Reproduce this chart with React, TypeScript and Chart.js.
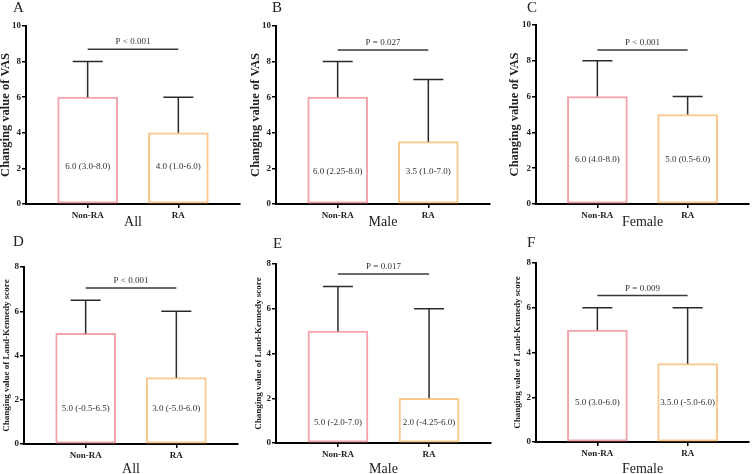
import { useEffect, useRef } from 'react';
import { Chart, registerables } from 'chart.js';

Chart.register(...registerables);

const FONT = "'Liberation Serif', 'Times New Roman', serif";

// data
const panelLetters = ['A', 'B', 'C', 'D', 'E', 'F'];
const groupNames = ['All', 'Male', 'Female', 'All', 'Male', 'Female'];
const categories = ['Non-RA', 'RA'];
const yTitles = [
  'Changing value of VAS',
  'Changing value of VAS',
  'Changing value of VAS',
  'Changing value of Land-Kennedy score',
  'Changing value of Land-Kennedy score',
  'Changing value of Land-Kennedy score',
];
const yMaxes = [10, 10, 10, 8, 8, 8];
const nonRaMedian = [6, 6, 6, 5, 5, 5];
const raMedian = [4, 3.5, 5, 3, 2, 3.5];
const nonRaUpper = [8, 8, 8, 6.5, 7, 6];
const raUpper = [6, 7, 6, 6, 6, 6];
const nonRaText = ['6.0 (3.0-8.0)', '6.0 (2.25-8.0)', '6.0 (4.0-8.0)', '5.0 (-0.5-6.5)', '5.0 (-2.0-7.0)', '5.0 (3.0-6.0)'];
const raText = ['4.0 (1.0-6.0)', '3.5 (1.0-7.0)', '5.0 (0.5-6.0)', '3.0 (-5.0-6.0)', '2.0 (-4.25-6.0)', '3.5.0 (-5.0-6.0)'];
const textLevel = [2.1, 1.8, 2.5, 1.6, 0.9, 1.75];
const pTexts = ['P < 0.001', 'P = 0.027', 'P < 0.001', 'P < 0.001', 'P = 0.017', 'P = 0.009'];
const bracketLevel = [8.7, 8.65, 8.6, 7.05, 7.55, 6.55];

const barColors = ['#f4a3ab', '#f9c88e'];

// panel placement
const layouts = [
  { left: 0, top: 0, width: 250, height: 230, yWidth: 26, xHeight: 26, padTop: 26, padRight: 10, yTitleSize: 12.5, yTitlePad: -1.3, xTitlePad: -1, lx: 13, ly: 0 },
  { left: 250, top: 0, width: 250, height: 230, yWidth: 26, xHeight: 26, padTop: 26, padRight: 10, yTitleSize: 12.5, yTitlePad: -1.3, xTitlePad: -1, lx: 272, ly: 0 },
  { left: 500, top: 0, width: 252, height: 230, yWidth: 36, xHeight: 26, padTop: 25, padRight: 3, yTitleSize: 12.5, yTitlePad: 7.5, xTitlePad: -1, lx: 527, ly: 0 },
  { left: 0, top: 230, width: 250, height: 244, yWidth: 24, xHeight: 30, padTop: 37, padRight: 12, yTitleSize: 9, yTitlePad: 1.3, xTitlePad: -4, lx: 13, ly: 234 },
  { left: 250, top: 230, width: 250, height: 244, yWidth: 26, xHeight: 31, padTop: 34, padRight: 9, yTitleSize: 9, yTitlePad: 3.3, xTitlePad: -4, lx: 273, ly: 236 },
  { left: 500, top: 230, width: 252, height: 244, yWidth: 36, xHeight: 32, padTop: 33, padRight: 3, yTitleSize: 9, yTitlePad: 12, xTitlePad: -4, lx: 527, ly: 235 },
];

const Panel = ({ i }: { i: number }) => {
  const canvasRef = useRef<HTMLCanvasElement | null>(null);
  const chartRef = useRef<Chart | null>(null);
  const L = layouts[i];

  useEffect(() => {
    const ctx = canvasRef.current?.getContext('2d');
    if (!ctx) return;

    const medians = [nonRaMedian[i], raMedian[i]];
    const uppers = [nonRaUpper[i], raUpper[i]];
    const texts = [nonRaText[i], raText[i]];

    // error bars, bar labels and the significance bracket
    const annotate = {
      id: 'annotate',
      afterDatasetsDraw(chart: any) {
        const c = chart.ctx;
        const xs = chart.scales.x;
        const ys = chart.scales.y;
        const meta = chart.getDatasetMeta(0);
        c.save();
        meta.data.forEach((bar: any, j: number) => {
          const cx = bar.x;
          const half = bar.width / 4;
          const top = ys.getPixelForValue(medians[j]);
          const up = ys.getPixelForValue(uppers[j]);
          c.strokeStyle = '#2a2a2a';
          c.lineWidth = 1.5;
          c.beginPath();
          c.moveTo(cx, top);
          c.lineTo(cx, up);
          c.moveTo(cx - half, up);
          c.lineTo(cx + half, up);
          c.stroke();
          c.fillStyle = '#333';
          c.font = `9px ${FONT}`;
          c.textAlign = 'center';
          c.textBaseline = 'middle';
          c.fillText(texts[j], cx, ys.getPixelForValue(textLevel[i]));
        });
        const by = ys.getPixelForValue(bracketLevel[i]);
        const x1 = xs.getPixelForValue(1);
        const x2 = xs.getPixelForValue(2);
        c.strokeStyle = '#3a3a3a';
        c.lineWidth = 1.5;
        c.beginPath();
        c.moveTo(x1, by);
        c.lineTo(x2, by);
        c.stroke();
        c.fillStyle = '#333';
        c.font = `9px ${FONT}`;
        c.textAlign = 'center';
        c.textBaseline = 'middle';
        c.fillText(pTexts[i], (x1 + x2) / 2, by - 7);
        c.restore();
      },
    };

    chartRef.current = new Chart(ctx, {
      type: 'bar',
      data: {
        datasets: [
          {
            data: [
              { x: 1, y: nonRaMedian[i] },
              { x: 2, y: raMedian[i] },
            ],
            backgroundColor: '#ffffff',
            borderColor: barColors,
            borderWidth: 2,
            borderSkipped: false,
            barThickness: 60,
          },
        ],
      },
      options: {
        animation: false,
        responsive: true,
        maintainAspectRatio: false,
        layout: { padding: { top: L.padTop, right: L.padRight, left: 0, bottom: 0 } },
        plugins: { legend: { display: false }, tooltip: { enabled: false } },
        scales: {
          x: {
            type: 'linear',
            min: 0.32,
            max: 2.68,
            offset: false,
            afterBuildTicks: (axis: any) => {
              axis.ticks = [{ value: 1 }, { value: 2 }];
            },
            afterFit: (axis: any) => {
              axis.height = L.xHeight;
            },
            ticks: {
              callback: (v: any) => categories[Number(v) - 1] ?? '',
              font: { family: FONT, size: 9, weight: 'bold' },
              color: '#222',
              padding: 2,
              autoSkip: false,
              maxRotation: 0,
            },
            grid: { drawOnChartArea: false, tickLength: 4, color: '#000', lineWidth: 1.5, offset: false },
            border: { color: '#000', width: 2 },
            title: {
              display: true,
              text: groupNames[i],
              font: { family: FONT, size: 14 },
              color: '#222',
              padding: { top: 0, bottom: L.xTitlePad },
            },
          },
          y: {
            min: 0,
            max: yMaxes[i],
            afterFit: (axis: any) => {
              axis.width = L.yWidth;
            },
            ticks: {
              stepSize: 2,
              font: { family: FONT, size: 9, weight: 'bold' },
              color: '#222',
              padding: 1,
            },
            grid: { drawOnChartArea: false, tickLength: 4, color: '#000', lineWidth: 1.5 },
            border: { color: '#000', width: 2 },
            title: {
              display: true,
              text: yTitles[i],
              font: { family: FONT, size: L.yTitleSize, weight: 'bold' },
              color: '#222',
              padding: { top: L.yTitlePad, bottom: 0 },
            },
          },
        },
      },
      plugins: [annotate],
    } as any);

    return () => chartRef.current?.destroy();
  }, []);

  return (
    <>
      <div style={{ position: 'absolute', left: L.left, top: L.top, width: L.width, height: L.height }}>
        <canvas ref={canvasRef} />
      </div>
      <div
        style={{
          position: 'absolute',
          left: L.lx,
          top: L.ly,
          fontFamily: FONT,
          fontSize: 15,
          lineHeight: '15px',
          color: '#222',
        }}
      >
        {panelLetters[i]}
      </div>
    </>
  );
};

const App = () => {
  return (
    <div style={{ position: 'absolute', left: 0, top: 0, width: 752, height: 474, overflow: 'hidden', background: '#fff' }}>
      {panelLetters.map((_, i) => (
        <Panel key={i} i={i} />
      ))}
    </div>
  );
};

export default App;
